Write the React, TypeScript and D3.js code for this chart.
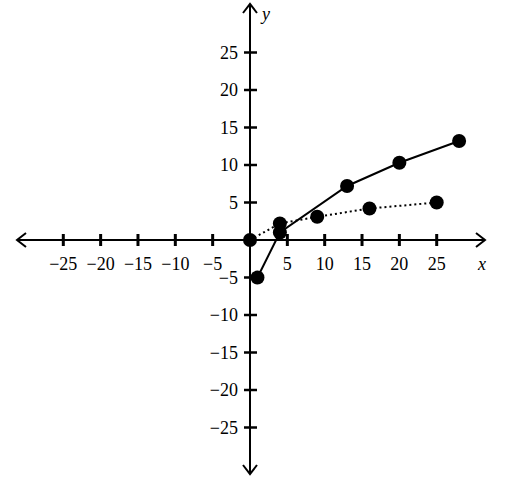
import React from 'react';
import * as d3 from 'd3';

// tick values for both axes
const xTicks = [-25, -20, -15, -10, -5, 5, 10, 15, 20, 25];
const yTicks = [-25, -20, -15, -10, -5, 5, 10, 15, 20, 25];

// dotted series (square-root like)
const dottedX = [0, 4, 9, 16, 25];
const dottedY = [0, 2.2, 3.1, 4.2, 5];

// solid series
const solidX = [1, 4, 13, 20, 28];
const solidY = [-5, 1, 7.2, 10.3, 13.2];

const W = 516;
const H = 486;
const font = 'Liberation Serif, Times New Roman, serif';

const App = () => {
  const x = d3.scaleLinear().domain([-25, 25]).range([63.3, 436.7]);
  const y = d3.scaleLinear().domain([-25, 25]).range([427.5, 52.5]);
  const x0 = x(0);
  const y0 = y(0);

  const line = d3.line<[number, number]>()
    .x(d => x(d[0]))
    .y(d => y(d[1]));

  const dotted = dottedX.map((v, i) => [v, dottedY[i]] as [number, number]);
  const solid = solidX.map((v, i) => [v, solidY[i]] as [number, number]);

  const left = 17, right = 485, top = 4, bottom = 474;
  const ah = 9, aw = 7;
  const fmt = (t: number) => (t < 0 ? '\u2212' + Math.abs(t) : String(t));

  return (
    <svg width={W} height={H} style={{ position: 'absolute', left: 0, top: 0, background: '#fff' }}>
      {/* axes */}
      <g stroke="#000" strokeWidth={2} fill="none">
        <line x1={left} y1={y0} x2={right} y2={y0} />
        <line x1={x0} y1={top} x2={x0} y2={bottom} />
        <polyline points={`${left + ah},${y0 - aw} ${left},${y0} ${left + ah},${y0 + aw}`} />
        <polyline points={`${right - ah},${y0 - aw} ${right},${y0} ${right - ah},${y0 + aw}`} />
        <polyline points={`${x0 - aw},${top + ah} ${x0},${top} ${x0 + aw},${top + ah}`} />
        <polyline points={`${x0 - aw},${bottom - ah} ${x0},${bottom} ${x0 + aw},${bottom - ah}`} />
        {xTicks.map(t => (
          <line key={'xt' + t} x1={x(t)} x2={x(t)} y1={y0 - 6} y2={y0 + 6} strokeWidth={3} />
        ))}
        {yTicks.map(t => (
          <line key={'yt' + t} x1={x0 - 6} x2={x0 + 7} y1={y(t)} y2={y(t)} strokeWidth={2.5} />
        ))}
      </g>

      {/* tick labels */}
      <g fontFamily={font} fontSize={18} fill="#000">
        {xTicks.map(t => (
          <text key={'xl' + t} x={x(t)} y={y0 + 30} textAnchor="middle">{fmt(t)}</text>
        ))}
        {yTicks.map(t => (
          <text key={'yl' + t} x={x0 - 12} y={y(t) + 6} textAnchor="end">{fmt(t)}</text>
        ))}
        <text x={482} y={y0 + 30} fontStyle="italic" textAnchor="middle">x</text>
        <text x={x0 + 16} y={20} fontStyle="italic" textAnchor="middle">y</text>
      </g>

      {/* series */}
      <path d={line(dotted) || ''} fill="none" stroke="#000" strokeWidth={2} strokeDasharray="2,3" />
      <path d={line(solid) || ''} fill="none" stroke="#000" strokeWidth={2} />
      {dotted.map((d, i) => (
        <circle key={'dd' + i} cx={x(d[0])} cy={y(d[1])} r={7} fill="#000" />
      ))}
      {solid.map((d, i) => (
        <circle key={'sd' + i} cx={x(d[0])} cy={y(d[1])} r={7} fill="#000" />
      ))}
    </svg>
  );
};

export default App;
